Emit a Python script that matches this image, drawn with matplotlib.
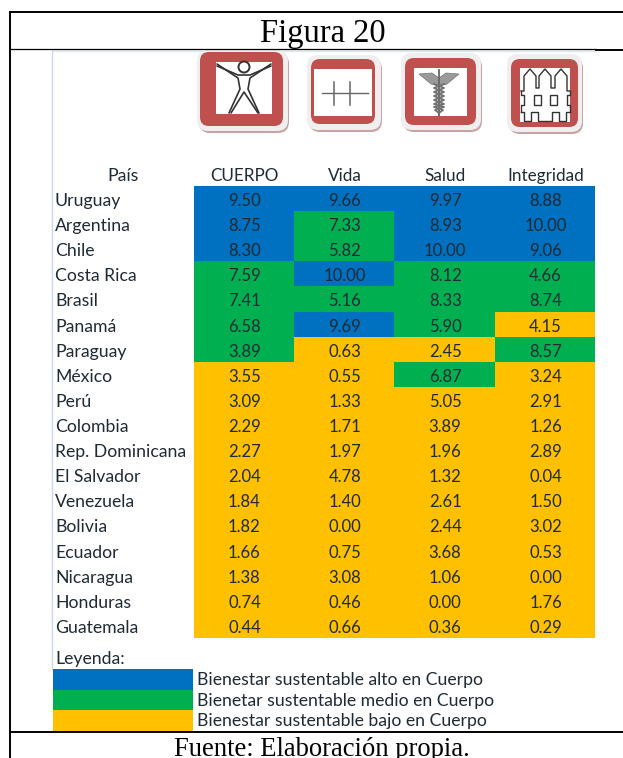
import numpy as np
import matplotlib
matplotlib.use('Agg')
import matplotlib.pyplot as plt
from matplotlib.colors import ListedColormap
from matplotlib.patches import FancyBboxPatch, Rectangle, Circle, Polygon

paises = ['Uruguay', 'Argentina', 'Chile', 'Costa Rica', 'Brasil', 'Panamá', 'Paraguay',
          'México', 'Perú', 'Colombia', 'Rep. Dominicana', 'El Salvador', 'Venezuela',
          'Bolivia', 'Ecuador', 'Nicaragua', 'Honduras', 'Guatemala']
columnas = ['CUERPO', 'Vida', 'Salud', 'Integridad']

cuerpo = [9.50, 8.75, 8.30, 7.59, 7.41, 6.58, 3.89, 3.55, 3.09, 2.29, 2.27, 2.04, 1.84, 1.82, 1.66, 1.38, 0.74, 0.44]
vida = [9.66, 7.33, 5.82, 10.00, 5.16, 9.69, 0.63, 0.55, 1.33, 1.71, 1.97, 4.78, 1.40, 0.00, 0.75, 3.08, 0.46, 0.66]
salud = [9.97, 8.93, 10.00, 8.12, 8.33, 5.90, 2.45, 6.87, 5.05, 3.89, 1.96, 1.32, 2.61, 2.44, 3.68, 1.06, 0.00, 0.36]
integridad = [8.88, 10.00, 9.06, 4.66, 8.74, 4.15, 8.57, 3.24, 2.91, 1.26, 2.89, 0.04, 1.50, 3.02, 0.53, 0.00, 1.76, 0.29]

# 0 alto, 1 medio, 2 bajo
nivel_cuerpo = [0, 0, 0, 1, 1, 1, 1, 2, 2, 2, 2, 2, 2, 2, 2, 2, 2, 2]
nivel_vida = [0, 1, 1, 0, 1, 0, 2, 2, 2, 2, 2, 2, 2, 2, 2, 2, 2, 2]
nivel_salud = [0, 0, 0, 1, 1, 1, 2, 1, 2, 2, 2, 2, 2, 2, 2, 2, 2, 2]
nivel_integridad = [0, 0, 0, 1, 1, 2, 1, 2, 2, 2, 2, 2, 2, 2, 2, 2, 2, 2]

leyenda = ['Bienestar sustentable alto en Cuerpo', 'Bienetar sustentable medio en Cuerpo',
           'Bienestar sustentable bajo en Cuerpo']
colores = ['#0070C0', '#00B050', '#FFC000']

SANS = 'Lato'
SERIF = 'Liberation Serif'
TXT = '#1f2a33'
FS = 12.7

fig = plt.figure(figsize=(6.23, 7.58), dpi=100)
ax = fig.add_axes([0, 0, 1, 1])
ax.set_xlim(0, 623)
ax.set_ylim(758, 0)
ax.axis('off')

# tabla
x0, x1, y0, y1 = 193.5, 595, 186, 638
valores = np.array([cuerpo, vida, salud, integridad]).T
niveles = np.array([nivel_cuerpo, nivel_vida, nivel_salud, nivel_integridad]).T
xs = np.linspace(x0, x1, len(columnas) + 1)
ys = np.linspace(y0, y1, len(paises) + 1)
cmap = ListedColormap(colores)
ax.pcolormesh(xs, ys, niveles, cmap=cmap, vmin=-0.5, vmax=2.5, zorder=1)

cx = (xs[:-1] + xs[1:]) / 2 + 0.7
cy = (ys[:-1] + ys[1:]) / 2
for i, nombre in enumerate(paises):
    ax.text(55, cy[i] + 7.5, nombre, family=SANS, fontsize=FS, color=TXT, va='baseline', ha='left', zorder=3)
    for j in range(len(columnas)):
        ax.text(cx[j], cy[i] + 7.5, '%.2f' % valores[i, j], family=SANS, fontsize=12, color=TXT,
                va='baseline', ha='center', zorder=3)

ax.text(123, 181, 'País', family=SANS, fontsize=FS, color=TXT, va='baseline', ha='center')
for j, col in enumerate(columnas):
    ax.text(cx[j], 181, col, family=SANS, fontsize=FS - 0.4, color=TXT, va='baseline', ha='center')

# leyenda
ax.text(55, 664, 'Leyenda:', family=SANS, fontsize=FS, color=TXT, va='baseline', ha='left')
ly = np.linspace(669, 731, len(leyenda) + 1)
for k, etiqueta in enumerate(leyenda):
    ax.add_patch(Rectangle((52.5, ly[k]), 140.5, ly[k + 1] - ly[k], fc=colores[k], ec='none', zorder=1))
    ax.text(197, ly[k] + 16, etiqueta, family=SANS, fontsize=FS, color=TXT, va='baseline', ha='left', zorder=3)


def icono(outer, red, inner):
    # outer, red, inner: (x0, y0, x1, y1) en pixeles
    a, b, c, d = outer
    ax.add_patch(FancyBboxPatch((a + 2, b + 3), c - a - 2, d - b - 3, boxstyle='round,pad=0,rounding_size=11',
                                fc='#c9a3a3', ec='none', zorder=2))
    ax.add_patch(FancyBboxPatch((a, b), c - a - 1, d - b - 2, boxstyle='round,pad=0,rounding_size=11',
                                fc='#f0eeee', ec='none', zorder=2.1))
    a, b, c, d = red
    ax.add_patch(FancyBboxPatch((a, b), c - a, d - b, boxstyle='round,pad=0,rounding_size=9',
                                fc='#C0504D', ec='none', zorder=2.2))
    a, b, c, d = inner
    ax.add_patch(Rectangle((a, b), c - a, d - b, fc='white', ec='none', zorder=2.3))


icono((197, 50, 289, 133), (200, 52, 283, 126), (216, 62, 272, 114))
icono((307, 55, 382, 132), (311, 59, 375, 124), (314, 69, 372, 116))
icono((401, 53, 482, 132), (405, 58, 476, 125), (414, 68, 467, 116))
icono((507, 54, 583, 134), (511, 59, 578, 127), (520, 68, 570, 122))

# persona
ink = dict(color='#333333', lw=1.2, zorder=3, solid_capstyle='round')
ax.add_patch(Circle((244, 67), 5.5, fc='white', ec='#333333', lw=1.4, zorder=3))
ax.plot([217, 238, 240, 229], [64, 78, 89, 113], **ink)
ax.plot([231, 244, 258], [113, 92, 113], **ink)
ax.plot([271, 250, 248, 259], [64, 78, 89, 113], **ink)
ax.plot([217, 238, 250, 271], [66, 75, 75, 66], **ink)

# pulso
ax.plot([322, 368], [93, 93], color='#666666', lw=1.0, zorder=3)
ax.plot([334, 334], [82, 105], color='#666666', lw=1.1, zorder=3)
ax.plot([350, 350], [82, 105], color='#666666', lw=1.1, zorder=3)

# caduceo
ax.add_patch(Polygon([[419, 74], [432, 73], [439, 78], [446, 73], [459, 74], [447, 84], [439, 86], [431, 84]],
                     fc='#9a9a9a', ec='#777777', lw=0.5, zorder=3))
ax.plot([439, 439], [70, 116], color='#666666', lw=1.3, zorder=3)
ax.plot([434, 444, 434, 444, 434, 444, 434, 443, 439], [84, 88, 92, 96, 100, 104, 107, 110, 113], color='#707070', lw=1.3, zorder=3)
ax.plot([444, 434, 444, 434, 444, 434, 444, 435, 439], [84, 88, 92, 96, 100, 104, 107, 110, 113], color='#707070', lw=1.3, zorder=3)

# cerca
ink4 = dict(color='#333333', lw=1.0, zorder=3)
ax.plot([521, 524, 524, 530, 536, 536, 539, 539, 545, 551, 551, 555, 555, 561, 567, 567, 570],
        [91, 91, 76, 69, 76, 88, 88, 76, 69, 76, 88, 88, 76, 69, 76, 91, 91], **ink4)
ax.plot([521, 521, 524, 524, 521, 521], [91, 95, 95, 105, 105, 112], **ink4)
ax.plot([570, 570, 567, 567, 570, 570], [91, 95, 95, 105, 105, 112], **ink4)
ax.plot([521, 524, 524, 531, 531, 538, 538, 552, 552, 559, 559, 566, 566, 570],
        [112, 112, 121, 121, 112, 112, 121, 121, 112, 112, 121, 121, 112, 112], **ink4)
for bx in [534, 550]:
    ax.add_patch(Rectangle((bx, 95), 7, 10, fc='white', ec='#333333', lw=1.0, zorder=3))

# marco
ax.plot([52, 52], [50, 669], color='#c5d9f1', lw=1.0, zorder=0.5)
ax.plot([52, 596], [50.5, 50.5], color='#dce6f1', lw=1.0, zorder=0.5)
ax.plot([10, 10], [12, 758], color='black', lw=1.4, zorder=5)
ax.plot([10, 623], [12, 12], color='black', lw=1.4, zorder=5)
ax.plot([10, 596], [49, 49], color='black', lw=0.9, zorder=5)
ax.plot([596, 623], [49.5, 49.5], color='black', lw=1.4, zorder=5)
ax.plot([10, 623], [732, 732], color='black', lw=1.4, zorder=5)

ax.text(322.5, 42, 'Figura 20', family=SERIF, fontsize=23.5, color='black', ha='center', va='baseline', zorder=6)
# en la referencia esta linea tambien queda cortada por el borde inferior
ax.text(322, 756, 'Fuente: Elaboración propia.', family=SERIF, fontsize=19.2, color='black', ha='center', va='baseline', zorder=6)

fig.savefig('out.png', dpi=100)
